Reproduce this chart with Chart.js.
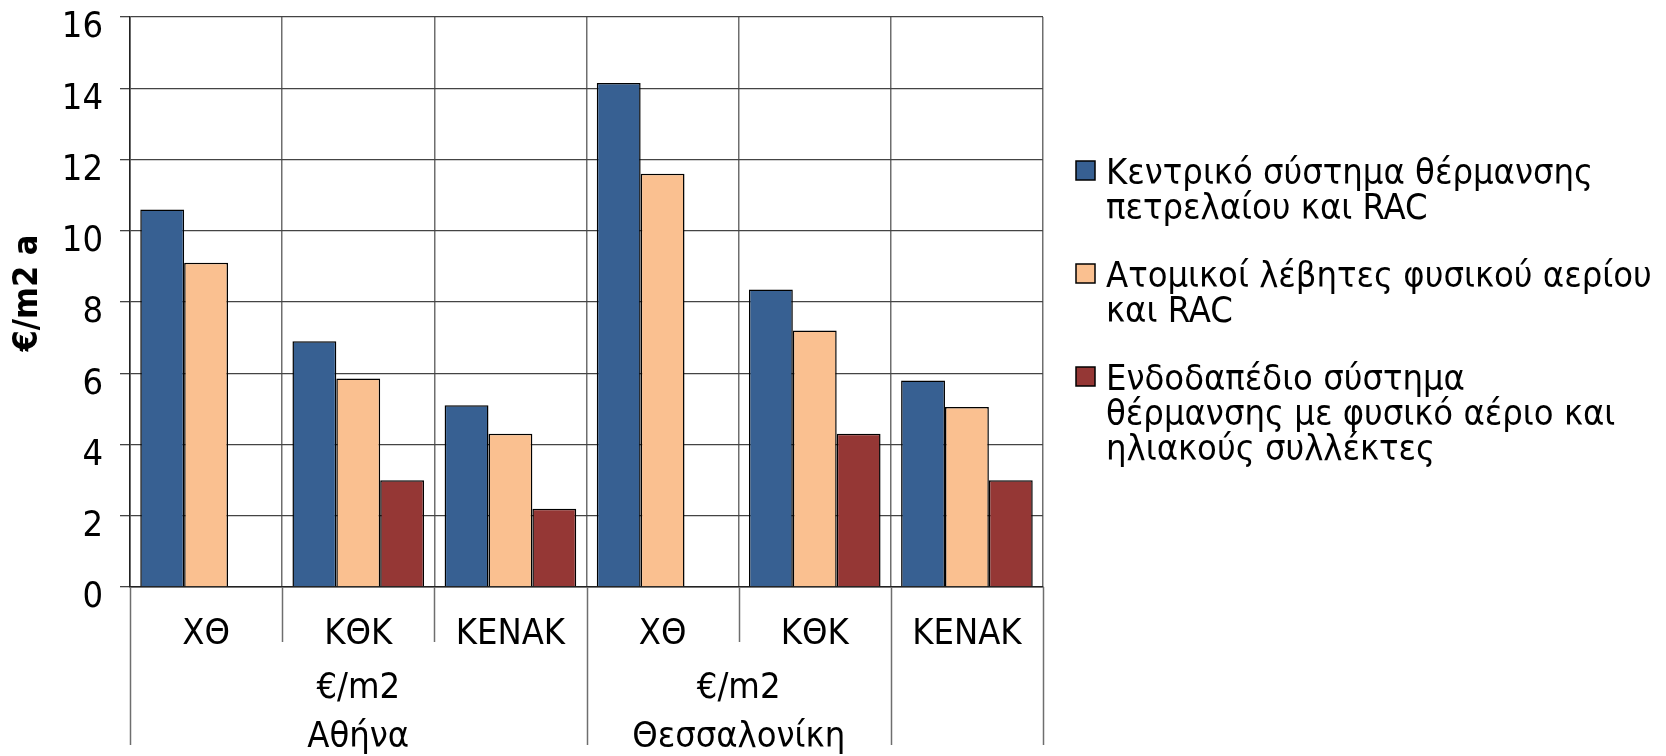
<!DOCTYPE html>
<html>
<head>
<meta charset="utf-8">
<script src="https://cdn.jsdelivr.net/npm/chart.js@4.4.1/dist/chart.umd.min.js"></script>
<style>
    body { margin: 0; background: #fff; }
</style>
</head>
<body>
<canvas id="costChart" width="1666" height="756"></canvas>
<script>
// Κόστος θέρμανσης ανά σύστημα, πόλη και σενάριο κτιρίου (€/m2 ανά έτος)
const categories = ['ΧΘ', 'ΚΘΚ', 'ΚΕΝΑΚ', 'ΧΘ', 'ΚΘΚ', 'ΚΕΝΑΚ'];
const groupNames = ['Αθήνα', 'Θεσσαλονίκη', ''];
const groupSpans = [3, 2, 1];
const groupUnit = '€/m2';

const oilCentral = [10.6, 6.9, 5.1, 14.15, 8.35, 5.8];
const gasBoilers = [9.1, 5.85, 4.3, 11.6, 7.2, 5.05];
const floorSolar = [null, 3.0, 2.2, null, 4.3, 3.0];

// Ετικέτες υπομνήματος, σπασμένες σε γραμμές
const seriesLabels = [
    ['Κεντρικό σύστημα θέρμανσης', 'πετρελαίου και RAC'],
    ['Ατομικοί λέβητες φυσικού αερίου', 'και RAC'],
    ['Ενδοδαπέδιο σύστημα', 'θέρμανσης με φυσικό αέριο και', 'ηλιακούς συλλέκτες']
];
const seriesColors = ['#376092', '#FAC090', '#953735'];

const yTitle = '€/m2 a';
const yMin = 0;
const yMax = 16;
const yStep = 2;

const FONT = "'DejaVu Sans Condensed', 'DejaVu Sans', sans-serif";
Chart.defaults.font.family = FONT;
Chart.defaults.color = '#000';

// Τίτλος άξονα y, διαχωριστικά κάτω από τον άξονα x, ετικέτες ομάδων και υπόμνημα
const extrasPlugin = {
    id: 'extras',
    afterDraw(chart) {
        const ctx = chart.ctx;
        const area = chart.chartArea;
        const xs = chart.scales.x;
        const n = categories.length;

        const edge = i => {
            if (i === 0) return area.left;
            if (i === n) return area.right;
            return (xs.getPixelForValue(i - 1) + xs.getPixelForValue(i)) / 2;
        };

        const groupEdges = [0];
        groupSpans.forEach(s => groupEdges.push(groupEdges[groupEdges.length - 1] + s));

        ctx.save();

        // τίτλος άξονα y
        ctx.save();
        ctx.translate(28, 293);
        ctx.rotate(-Math.PI / 2);
        ctx.font = 'bold 34px ' + FONT;
        ctx.fillStyle = '#000';
        ctx.textAlign = 'center';
        ctx.textBaseline = 'middle';
        ctx.fillText(yTitle, 0, 0);
        ctx.restore();

        ctx.strokeStyle = '#6e6e6e';
        ctx.lineWidth = 1.5;
        for (let i = 0; i <= n; i++) {
            const x = Math.round(edge(i)) + 0.5;
            const len = groupEdges.includes(i) ? 158 : 55;
            ctx.beginPath();
            ctx.moveTo(x, area.bottom);
            ctx.lineTo(x, area.bottom + len);
            ctx.stroke();
        }

        ctx.fillStyle = '#000';
        ctx.font = '36px ' + FONT;
        ctx.textAlign = 'center';
        ctx.textBaseline = 'middle';
        groupNames.forEach((name, g) => {
            if (!name) return;
            const cx = (edge(groupEdges[g]) + edge(groupEdges[g + 1])) / 2;
            ctx.fillText(groupUnit, cx, area.bottom + 102);
            ctx.fillText(name, cx, area.bottom + 151);
        });

        // υπόμνημα
        const lx = 1076;
        const box = 19;
        const lineH = 35;
        const gap = 33;
        let ly = 175;
        ctx.textAlign = 'left';
        seriesLabels.forEach((lines, i) => {
            ctx.fillStyle = seriesColors[i];
            ctx.fillRect(lx, ly - 14, box, box);
            ctx.strokeStyle = '#000';
            ctx.lineWidth = 1.5;
            ctx.strokeRect(lx, ly - 14, box, box);
            ctx.fillStyle = '#000';
            lines.forEach((t, k) => ctx.fillText(t, lx + 30, ly + k * lineH));
            ly += lines.length * lineH + gap;
        });
        ctx.restore();
    }
};

const datasets = [oilCentral, gasBoilers, floorSolar].map((values, i) => ({
    label: seriesLabels[i].join(' '),
    data: values,
    backgroundColor: seriesColors[i],
    borderColor: '#000',
    borderWidth: 1.5,
    categoryPercentage: 0.865,
    barPercentage: 1.0
}));

new Chart(document.getElementById('costChart'), {
    type: 'bar',
    data: {
        labels: categories,
        datasets: datasets
    },
    options: {
        responsive: false,
        animation: false,
        layout: {
            padding: { top: 0, right: 623, bottom: 0, left: 0 }
        },
        plugins: {
            legend: { display: false },
            tooltip: { enabled: false }
        },
        scales: {
            x: {
                grid: { offset: true, color: '#6e6e6e', lineWidth: 1.5, drawTicks: false },
                border: { color: '#222', width: 1.5 },
                ticks: {
                    font: { size: 36 },
                    padding: 26,
                    maxRotation: 0,
                    autoSkip: false
                },
                afterFit(scale) { scale.height = 169; }
            },
            y: {
                min: yMin,
                max: yMax,
                grid: { color: '#444', lineWidth: 1.3, tickLength: 10 },
                border: { color: '#222', width: 1.5 },
                ticks: {
                    stepSize: yStep,
                    // lineHeight 0: η απόσταση από την κορυφή ορίζεται μόνο από το padding
                    font: { size: 36, lineHeight: 0 },
                    padding: 17,
                    labelOffset: 11
                },
                afterFit(scale) { scale.width = 130; }
            }
        }
    },
    plugins: [extrasPlugin]
});
</script>
</body>
</html>
